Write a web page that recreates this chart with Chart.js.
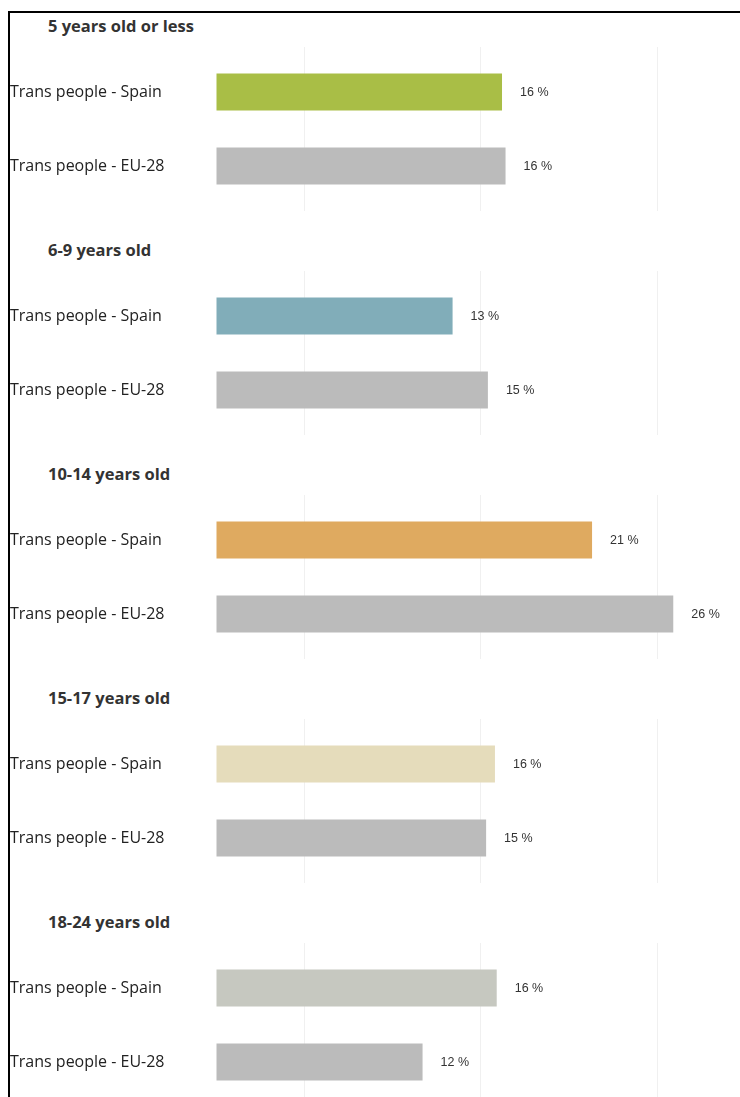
<!DOCTYPE html>
<html>
<head>
<meta charset="utf-8">
<script src="https://cdn.jsdelivr.net/npm/chart.js@4/dist/chart.umd.min.js"></script>
<style>
    html, body {
        margin: 0;
        padding: 0;
        width: 740px;
        height: 1097px;
        overflow: hidden;
        background: #fff;
        position: relative;
    }
    .frame {
        position: absolute;
        left: 8px;
        top: 11px;
        width: 800px;
        height: 1200px;
        border-left: 2px solid #000;
        border-top: 2px solid #000;
    }
    .panel-title {
        position: absolute;
        left: 48px;
        margin: 0;
        font: bold 16.5px "Open Sans", sans-serif;
        line-height: 20px;
        color: #333;
        white-space: nowrap;
    }
    .panel-canvas {
        position: absolute;
        left: 10px;
    }
</style>
</head>
<body>
<div class="frame"></div>
<div id="charts-container"></div>
<script>
const groups = ['5 years old or less', '6-9 years old', '10-14 years old', '15-17 years old', '18-24 years old'];
const categories = ['Trans people - Spain', 'Trans people - EU-28'];
const spainValues = [16.2, 13.4, 21.3, 15.8, 15.9];
const euValues = [16.4, 15.4, 25.9, 15.3, 11.7];
const spainColors = ['#a9be46', '#81adb9', '#dfaa60', '#e5dcbb', '#c6c8c0'];
const euColor = '#bbbbbb';

const PANEL_STEP = 224;
const CANVAS_W = 730;
const CANVAS_H = 178;

// draws "16 %" style labels right after each bar
const valueLabels = {
    id: 'valueLabels',
    afterDatasetsDraw(chart) {
        const ctx = chart.ctx;
        const meta = chart.getDatasetMeta(0);
        ctx.save();
        ctx.font = '12.5px "Liberation Sans", Arial, sans-serif';
        ctx.fillStyle = '#333';
        ctx.textAlign = 'left';
        ctx.textBaseline = 'middle';
        meta.data.forEach(function (bar, i) {
            const v = chart.data.datasets[0].data[i];
            ctx.fillText(Math.round(v) + ' %', bar.x + 18, bar.y + 1);
        });
        ctx.restore();
    }
};

function gridColor(c) {
    // only lines at 5, 15, 25
    return c.tick && c.tick.value % 10 === 5 ? '#f0f0f0' : 'rgba(0,0,0,0)';
}

function createPanel(index) {
    const container = document.getElementById('charts-container');

    const title = document.createElement('h5');
    title.classList.add('panel-title');
    title.textContent = groups[index];
    title.style.top = (16 + index * PANEL_STEP) + 'px';
    container.appendChild(title);

    const canvas = document.createElement('canvas');
    canvas.classList.add('panel-canvas');
    canvas.width = CANVAS_W;
    canvas.height = CANVAS_H;
    canvas.style.width = CANVAS_W + 'px';
    canvas.style.height = CANVAS_H + 'px';
    canvas.style.top = (40 + index * PANEL_STEP) + 'px';
    container.appendChild(canvas);

    const xBase = {
        type: 'linear',
        min: 0,
        max: 29,
        ticks: { display: false, stepSize: 5 },
        border: { display: false },
        grid: { color: gridColor, lineWidth: 1, tickLength: 8 }
    };

    new Chart(canvas.getContext('2d'), {
        type: 'bar',
        data: {
            labels: categories,
            datasets: [{
                data: [spainValues[index], euValues[index]],
                backgroundColor: [spainColors[index], euColor],
                borderWidth: 0,
                barPercentage: 0.5,
                categoryPercentage: 1,
                xAxisID: 'x'
            }]
        },
        options: {
            indexAxis: 'y',
            responsive: false,
            animation: false,
            layout: { padding: { left: 0, right: 12, top: 7, bottom: 7 } },
            plugins: {
                legend: { display: false },
                tooltip: { enabled: false }
            },
            scales: {
                x: Object.assign({}, xBase, { position: 'bottom' }),
                x2: Object.assign({}, xBase, {
                    position: 'top',
                    grid: { color: gridColor, lineWidth: 1, tickLength: 8, drawOnChartArea: false }
                }),
                y: {
                    grid: { display: false },
                    border: { display: false },
                    ticks: {
                        crossAlign: 'far',
                        color: '#222',
                        font: { family: '"Open Sans", sans-serif', size: 16 }
                    },
                    afterFit: function (scale) {
                        scale.width = 206;
                    }
                }
            }
        },
        plugins: [valueLabels]
    });
}

groups.forEach(function (g, i) {
    createPanel(i);
});
</script>
</body>
</html>
